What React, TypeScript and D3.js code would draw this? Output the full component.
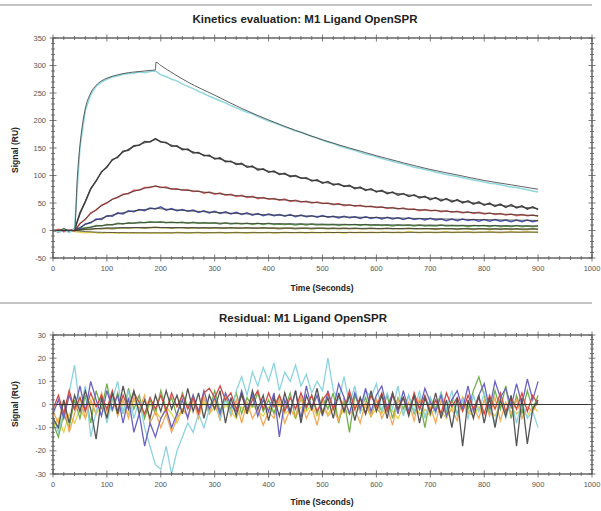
import React from 'react';
import * as d3 from 'd3';

// ---------- DATA ----------
const dataTime = d3.range(0, 901, 10);
const fitTime = [0, 20, 40, 45, 50, 55, 60, 70, 80, 90, 100, 120, 140, 160, 180, 190, 191, 200, 250, 300, 350, 400, 450, 500, 550, 600, 650, 700, 750, 800, 850, 900];

const cyanData = [
  2, -3, 1, -4, 3, 150, 218, 247, 262, 270,
  275, 279, 281, 284, 285, 286, 288, 287, 289, 290,
  283, 280, 275, 272, 266, 262, 258, 253, 249, 244,
  240, 236, 232, 227, 223, 219, 215, 212, 207, 203,
  199, 196, 192, 188, 185, 181, 179, 175, 171, 168,
  164, 161, 158, 154, 151, 148, 146, 142, 139, 137,
  134, 131, 128, 126, 123, 121, 118, 115, 113, 111,
  109, 106, 104, 102, 100, 98, 96, 94, 92, 90,
  88, 86, 85, 83, 81, 79, 78, 76, 74, 72,
  70];
const grayData = [
  1, -2, 3, -1, 2, 32, 52, 76, 90, 107,
  115, 129, 133, 144, 146, 154, 155, 162, 161, 167,
  161, 160, 153, 154, 147, 148, 141, 142, 136, 137,
  130, 132, 125, 126, 120, 122, 115, 117, 110, 112,
  106, 108, 102, 104, 98, 100, 95, 96, 90, 92,
  86, 89, 83, 85, 80, 82, 76, 79, 73, 76,
  70, 73, 67, 70, 64, 67, 62, 65, 59, 62,
  56, 60, 54, 58, 52, 56, 50, 54, 48, 52,
  46, 50, 44, 48, 42, 47, 41, 45, 39, 43,
  38];
const redData = [
  -1, 2, -2, 1, -1, 13, 20, 32, 37, 46,
  50, 57, 60, 66, 67, 73, 73, 78, 78, 81,
  78, 79, 75, 76, 73, 74, 71, 72, 68, 70,
  66, 68, 64, 66, 62, 64, 60, 62, 58, 60,
  57, 58, 55, 57, 53, 55, 52, 53, 50, 52,
  49, 50, 47, 49, 45, 47, 44, 46, 43, 44,
  42, 43, 40, 42, 39, 41, 38, 39, 36, 38,
  36, 37, 34, 36, 33, 35, 32, 34, 31, 33,
  30, 32, 29, 31, 28, 30, 27, 29, 27, 28,
  26];
const blueData = [
  2, -3, 1, -2, 3, 4, 12, 14, 21, 20,
  27, 26, 32, 30, 36, 34, 38, 36, 41, 39,
  43, 37, 40, 36, 38, 35, 37, 33, 36, 32,
  35, 31, 34, 30, 33, 29, 32, 28, 31, 27,
  30, 27, 29, 26, 29, 25, 28, 25, 27, 24,
  27, 24, 26, 23, 26, 23, 25, 22, 25, 22,
  24, 21, 24, 21, 23, 20, 23, 20, 22, 19,
  22, 19, 21, 18, 21, 18, 21, 18, 20, 17,
  20, 17, 20, 17, 19, 16, 19, 16, 19, 16,
  18];
const greenData = [
  1, -1, 2, -2, 1, 3, 5, 6, 9, 8,
  11, 10, 13, 12, 14, 13, 15, 14, 16, 15,
  16, 14, 15, 14, 15, 13, 15, 13, 14, 13,
  14, 12, 14, 12, 13, 12, 13, 11, 13, 11,
  13, 11, 12, 11, 12, 10, 12, 10, 12, 10,
  11, 10, 11, 9, 11, 10, 11, 9, 11, 9,
  10, 9, 10, 8, 10, 9, 10, 8, 10, 8,
  9, 8, 10, 8, 9, 8, 9, 7, 9, 8,
  9, 7, 9, 7, 8, 7, 9, 7, 8, 7,
  8];
const oliveData = [
  0, 1, -1, 0, 1, 1, 2, 2, 3, 3,
  4, 3, 4, 5, 4, 5, 5, 4, 5, 6,
  5, 5, 4, 5, 5, 4, 5, 4, 5, 4,
  5, 4, 4, 5, 4, 4, 5, 4, 4, 5,
  4, 4, 3, 4, 4, 3, 4, 4, 3, 4,
  4, 3, 4, 3, 4, 3, 4, 3, 3, 4,
  3, 3, 4, 3, 3, 3, 4, 3, 3, 3,
  3, 2, 3, 3, 3, 2, 3, 3, 2, 3,
  3, 2, 3, 2, 3, 2, 3, 2, 2, 3,
  2];
const yellowData = [
  -1, 0, -2, -1, -2, -3, -4, -3, -4, -5,
  -4, -4, -5, -4, -5, -4, -5, -4, -5, -4,
  -5, -4, -5, -3, -4, -5, -4, -3, -5, -4,
  -4, -3, -5, -4, -3, -4, -5, -3, -4, -4,
  -3, -5, -4, -3, -4, -4, -3, -5, -3, -4,
  -4, -3, -4, -3, -5, -3, -4, -3, -4, -3,
  -4, -3, -3, -4, -3, -4, -2, -3, -4, -3,
  -3, -4, -3, -2, -4, -3, -3, -2, -4, -3,
  -3, -2, -3, -4, -3, -2, -3, -3, -2, -3,
  -3];

const cyanFit = [0, 0, 0, 95, 155, 195, 222, 250, 264, 272, 277, 283, 287, 289, 291, 292, 306, 300, 270, 246, 222, 201, 182, 165, 150, 136, 123, 111, 101, 91, 83, 75];
const grayFit = [0, 0, 0, 15, 29, 42, 54, 75, 91, 105, 117, 135, 148, 156, 162, 165, 165, 162, 146, 132, 120, 108, 98, 88, 80, 72, 66, 59, 54, 48, 44, 40];
const redFit = [0, 0, 0, 6, 11.5, 17, 21.5, 30.4, 38, 45, 51, 61, 68, 74, 79, 80.6, 80.6, 78.8, 73, 67.6, 62.6, 58, 53.7, 49.7, 46, 42.7, 39.5, 36.6, 33.9, 31.4, 29.1, 27];
const blueFit = [0, 0, 0, 3, 5.7, 8.3, 10.8, 15.2, 19, 22.5, 25.5, 30.4, 34.2, 37.1, 39.4, 40.3, 40.3, 39.5, 36, 33, 30.5, 28.5, 27, 25.5, 24.5, 23.5, 22.5, 21.5, 20.5, 19.8, 19, 18.3];
const greenFit = [0, 0, 0, 1, 2, 3, 4, 6, 8, 9, 10, 12, 13, 14, 15, 15, 15, 15, 14, 13.5, 13, 12.5, 12, 11.5, 11, 10.5, 10, 9.8, 9.4, 9, 8.7, 8.4];
const oliveFit = [0, 0, 0, 0.5, 1, 1.5, 2, 3, 3.5, 4, 4.5, 5, 5.3, 5.5, 5.6, 5.6, 5.6, 5.5, 5.2, 5, 4.8, 4.6, 4.4, 4.2, 4, 3.8, 3.6, 3.4, 3.2, 3, 2.9, 2.8];
const yellowFit = [0, 0, 0, -0.5, -1, -1.5, -2, -2.5, -3, -3.3, -3.5, -3.8, -4, -4.1, -4.2, -4.2, -4.2, -4.2, -4.1, -4, -4, -3.9, -3.8, -3.7, -3.6, -3.5, -3.4, -3.3, -3.2, -3.1, -3, -3];

const cyanRes = [
  -5, -12, -3, 5, 17, -2, 8, -14, -3, 4,
  -8, 2, 10, -4, 6, -6, 2, -10, -18, -26,
  -28, -18, -30, -20, -14, -8, -12, -4, -10, -2,
  4, -6, 2, -4, 6, 12, 4, 14, 8, 16,
  10, 18, 6, 14, 10, 17, 8, 13, 5, 10,
  6, 20, 6, 2, 12, 0, 8, -4, 6, 3,
  9, -3, 5, -2, 8, -5, 4, -3, 6, -6,
  3, -4, 5, -2, 6, -5, 2, -6, 4, -3,
  5, -2, -8, 3, -6, 2, -8, 1, -6, -3,
  -10];
const purpleRes = [
  -4, 2, -6, 4, -2, 8, -3, 10, 2, -5,
  6, -2, 4, -8, 3, -12, -4, -18, -8, -14,
  -6, -2, -10, -4, 2, -6, 4, -3, 6, -2,
  3, -4, 5, 0, -3, 6, -2, 4, -5, 2,
  -3, 5, -14, 2, -4, 6, -6, 8, -2, 4,
  -5, 6, -2, 9, 3, -4, 5, -2, 7, -3,
  4, 8, -2, 5, -4, 6, -3, 4, -2, 7,
  1, -3, 4, -5, 2, 6, -2, 8, -3, 4,
  9, -2, 10, 3, 7, -1, 9, 0, 11, 2,
  10];
const greenRes = [
  -8, -14, -4, -10, 2, -6, 4, -8, 6, -2,
  9, -3, 5, -4, 7, -2, 4, -6, 2, -4,
  6, -2, 3, -5, 5, -1, 4, -4, 3, -2,
  6, -3, 4, -2, 5, -4, 3, -1, 5, -3,
  2, -4, 4, -2, 5, -6, 3, -2, 4, -4,
  3, -2, 5, -8, 2, -12, 4, -2, 3, -5,
  2, -3, 4, -6, 3, -2, 4, -4, 2, -10,
  3, -2, 5, -3, 2, -4, 3, -2, 6, 12,
  4, -4, 6, -2, 8, -6, 4, -4, 6, -2,
  4];
const orangeRes = [
  -3, -8, 2, -12, -4, 3, -6, 2, -4, 5,
  -3, 4, -5, 2, -6, 3, -2, 4, -8, -3,
  -10, -4, -12, -6, -2, -5, 2, -6, 3, -4,
  2, -7, 3, -5, 2, -8, 1, -6, -2, -9,
  -3, -6, 2, -8, -2, -5, 3, -6, -1, -9,
  2, -5, -2, -7, 3, -4, -2, -8, 1, -5,
  2, -6, -1, -9, 2, -4, 1, -7, 3, -5,
  -1, -8, 2, -5, -2, -7, 3, -4, -1, -6,
  2, -5, 3, -7, 1, -4, 2, -6, -1, -3,
  1];
const redRes = [
  -2, 4, -4, 6, -2, 3, -3, 5, -1, 4,
  -2, 6, -3, 4, -2, 5, 1, -4, 3, -2,
  4, -3, 5, -1, 4, -2, 3, -4, 5, 7,
  3, 8, 2, 5, -2, 4, -3, 2, 6, -2,
  5, -1, 4, -3, 3, -2, 5, -1, 4, -3,
  2, 5, -2, 4, -3, 6, -2, 3, -4, 4,
  -1, 5, -3, 4, -2, 3, -4, 5, -2, 4,
  -3, 2, -4, 5, -1, 3, -3, 4, -2, 3,
  -4, 4, -2, 5, -3, 3, -2, 5, -3, 4,
  0];
const grayRes = [
  -6, -10, 2, -8, 4, -3, 6, -2, -15, 3,
  -6, 5, -4, 8, -2, 6, -4, 2, -6, 4,
  -3, 6, -2, 4, -4, 7, -3, 5, -6, 4,
  -2, 6, -8, 3, -5, 5, -4, 6, -2, 4,
  -7, 3, -5, 5, -3, 6, -8, 4, -2, 7,
  -4, 3, -6, 5, -3, 4, -7, 3, -4, 6,
  -3, 4, -6, 5, -2, 3, -5, 4, -8, 3,
  -4, 5, -6, 2, -10, 3, -18, 2, -6, 4,
  -8, 3, -10, 2, -5, 4, -18, 3, -17, -2,
  2];
const yellowRes = [
  -10, -6, -12, -4, -8, -2, -6, 1, -4, -1,
  -5, 2, -3, 0, -4, 2, -2, -5, 0, -3,
  -6, -1, -4, -8, -2, -5, 0, -3, 1, -4,
  -1, -5, 0, -3, -6, -1, -4, 0, -3, -5,
  -1, -3, 0, -4, -2, -6, -1, -3, 0, -5,
  -2, -4, -1, -6, -2, -4, 0, -3, -1, -5,
  -2, -4, 0, -3, -6, -1, -3, 0, -4, -2,
  -5, -1, -3, -6, -1, -4, 0, -3, -5, -1,
  -4, -2, -5, 0, -3, -1, -4, -2, -5, -1,
  -3];

const xTickLabels = [0, 100, 200, 300, 400, 500, 600, 700, 800, 900, 1000];
const topYTicks = [-50, 0, 50, 100, 150, 200, 250, 300, 350];
const resYTicks = [-30, -20, -10, 0, 10, 20, 30];

// ---------- STYLE ----------
const FONT = '"Liberation Sans", Arial, sans-serif';
const topDataSeries = [
  { v: yellowData, c: '#e5d452' },
  { v: oliveData, c: '#8e8c44' },
  { v: greenData, c: '#5f9c4f' },
  { v: blueData, c: '#4a55b0' },
  { v: redData, c: '#d85a55' },
  { v: grayData, c: '#444444' },
  { v: cyanData, c: '#8fd7dc' },
];
const topFits = [yellowFit, oliveFit, greenFit, blueFit, redFit, grayFit, cyanFit];
const resSeries = [
  { v: yellowRes, c: '#e3d447' },
  { v: greenRes, c: '#74b04e' },
  { v: orangeRes, c: '#f4a958' },
  { v: cyanRes, c: '#8dd3de' },
  { v: purpleRes, c: '#6a63c4' },
  { v: redRes, c: '#cf4a44' },
  { v: grayRes, c: '#555555' },
];

const X0 = 53, X1 = 592;

function Frame({ x, y, yMajor, yMinorStep, top, bottom }: any) {
  const stroke = '#5a5a5a';
  const xMinor = d3.range(0, 1001, 20);
  const [yLo, yHi] = y.domain();
  const yMinor = d3.range(yLo, yHi + 0.001, yMinorStep);
  const els: any[] = [];
  xMinor.forEach((t: number, i: number) => {
    const major = t % 100 === 0;
    const l = major ? 3.5 : 2;
    els.push(<line key={'xb' + i} x1={x(t)} x2={x(t)} y1={bottom - l} y2={bottom + l} stroke={stroke} strokeWidth={0.8} />);
    els.push(<line key={'xt' + i} x1={x(t)} x2={x(t)} y1={top - l} y2={top + l} stroke={stroke} strokeWidth={0.8} />);
  });
  yMinor.forEach((v: number, i: number) => {
    const major = yMajor.includes(Math.round(v * 1000) / 1000);
    const l = major ? 3.5 : 2;
    els.push(<line key={'yl' + i} x1={X0 - l} x2={X0 + l} y1={y(v)} y2={y(v)} stroke={stroke} strokeWidth={0.8} />);
    els.push(<line key={'yr' + i} x1={X1 - l} x2={X1 + l} y1={y(v)} y2={y(v)} stroke={stroke} strokeWidth={0.8} />);
  });
  return (
    <g>
      <rect x={X0} y={top} width={X1 - X0} height={bottom - top} fill="none" stroke={stroke} strokeWidth={1.4} />
      {els}
      {xTickLabels.map((t) => (
        <text key={'xl' + t} x={x(t)} y={bottom + 13} textAnchor="middle" fontSize={7.5} fill="#555" fontFamily={FONT}>{t}</text>
      ))}
      {yMajor.map((v: number) => (
        <text key={'ylb' + v} x={X0 - 7} y={y(v) + 2.6} textAnchor="end" fontSize={7.5} fill="#555" fontFamily={FONT}>{v}</text>
      ))}
    </g>
  );
}

export default function App() {
  const x = d3.scaleLinear().domain([0, 1000]).range([X0, X1]);
  const yTop = d3.scaleLinear().domain([-50, 350]).range([258, 38]);
  const yRes = d3.scaleLinear().domain([-30, 30]).range([474, 335]);

  const lineTop = d3.line<number>().x((_, i) => x(dataTime[i])).y((d) => yTop(d));
  const lineFit = d3.line<number>().x((_, i) => x(fitTime[i])).y((d) => yTop(d)).curve(d3.curveMonotoneX);
  const lineRes = d3.line<number>().x((_, i) => x(dataTime[i])).y((d) => yRes(d));

  return (
    <svg width={601} height={511} style={{ position: 'absolute', left: 0, top: 0, background: '#fff' }}>
      <rect x={0} y={0} width={601} height={511} fill="#fff" />
      <line x1={0} x2={592} y1={5} y2={5} stroke="#8a8a8a" strokeWidth={1.2} />
      <line x1={0} x2={592} y1={303} y2={303} stroke="#8a8a8a" strokeWidth={1.2} />

      {/* Top chart */}
      <text x={305} y={23} textAnchor="middle" fontSize={11.5} fontWeight="bold" fill="#222" fontFamily={FONT}>Kinetics evaluation: M1 Ligand OpenSPR</text>
      {topDataSeries.map((s, i) => (
        <path key={'td' + i} d={lineTop(s.v) || ''} fill="none" stroke={s.c} strokeWidth={1.5} />
      ))}
      {topFits.map((f, i) => (
        <path key={'tf' + i} d={lineFit(f) || ''} fill="none" stroke="#3a3a3a" strokeWidth={0.8} />
      ))}
      <Frame x={x} y={yTop} yMajor={topYTicks} yMinorStep={10} top={38} bottom={258} />
      <text x={322} y={291} textAnchor="middle" fontSize={8.5} fontWeight="bold" fill="#222" fontFamily={FONT}>Time (Seconds)</text>
      <text transform="translate(18,150) rotate(-90)" textAnchor="middle" fontSize={8.5} fontWeight="bold" fill="#222" fontFamily={FONT}>Signal (RU)</text>

      {/* Residual chart */}
      <text x={303} y={322} textAnchor="middle" fontSize={11.5} fontWeight="bold" fill="#222" fontFamily={FONT}>Residual: M1 Ligand OpenSPR</text>
      {resSeries.map((s, i) => (
        <path key={'rs' + i} d={lineRes(s.v) || ''} fill="none" stroke={s.c} strokeWidth={1.3} />
      ))}
      <line x1={X0} x2={X1} y1={yRes(0)} y2={yRes(0)} stroke="#333" strokeWidth={1.2} />
      <Frame x={x} y={yRes} yMajor={resYTicks} yMinorStep={2} top={335} bottom={474} />
      <text x={322} y={505} textAnchor="middle" fontSize={8.5} fontWeight="bold" fill="#222" fontFamily={FONT}>Time (Seconds)</text>
      <text transform="translate(18,404) rotate(-90)" textAnchor="middle" fontSize={8.5} fontWeight="bold" fill="#222" fontFamily={FONT}>Signal (RU)</text>
    </svg>
  );
}
